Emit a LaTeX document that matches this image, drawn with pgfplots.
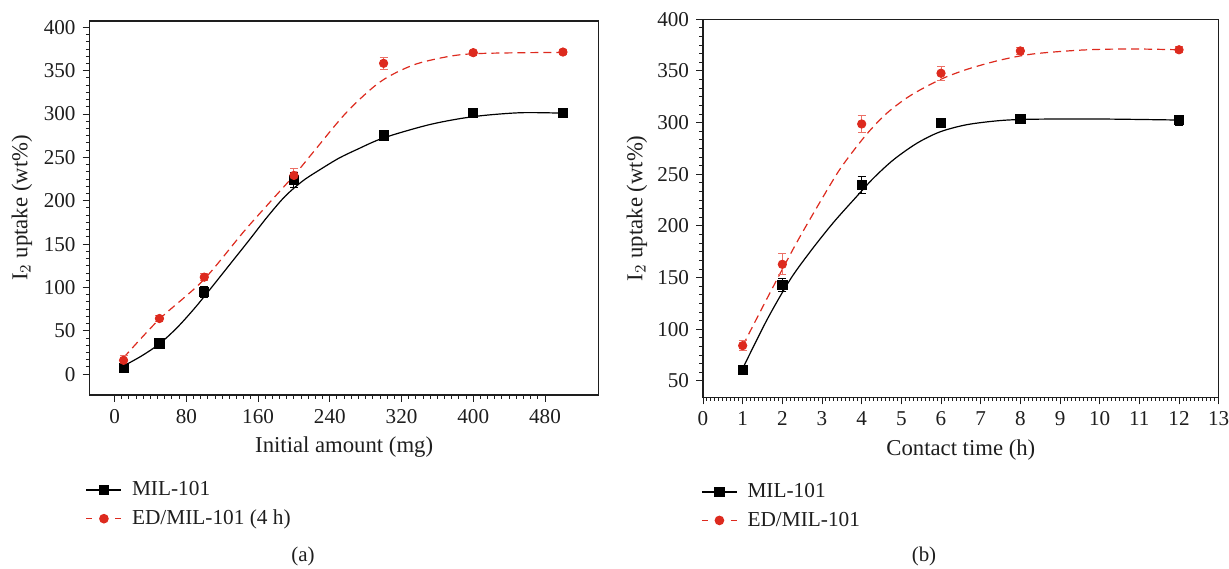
\documentclass[border=0pt]{standalone}
\usepackage{fontspec}
\setmainfont{Liberation Serif}
\usepackage{pgfplots}
\usepackage{pgfplotstable}
\pgfplotsset{compat=1.18}

\definecolor{myred}{RGB}{221,42,30}
\definecolor{errred}{RGB}{236,112,102}
\definecolor{ink}{RGB}{30,30,30}

% ---------- data (a) ----------
\pgfplotstableread{
x y e
10 7.7 3
50 35.4 3
100 95 6
200 224 9
300 275.4 3
400 301.5 3
500 301.5 3
}\amil
\pgfplotstableread{
x y e
10 16 6
50 64.2 4
100 111.9 4
200 229.2 8
300 358.5 7
400 370.8 3
500 371.5 3
}\aed
\pgfplotstableread{
x y
10 9.5
30 21
50 35
70 54
90 77
110 102.5
130 128.5
150 154.5
170 181
190 205
210 223
230 236.5
250 249
270 259
300 272.5
352 288
400 297
452 301.5
500 301
}\amilfit
\pgfplotstableread{
x y
10 19
49.5 63
99 108.5
147 168
199 228
221.5 256
258.7 302
296 337
333 356.5
370.4 366
399.4 369.5
452 370.7
500 371
}\aedfit
% ---------- data (b) ----------
\pgfplotstableread{
x y e
1 60.6 3
2 142.9 6
4 239.7 8
6 299.4 3
8 303.3 3
12 302.3 5
}\bmil
\pgfplotstableread{
x y e
1 84.2 5
2 162.9 10
4 298.7 8
6 347.8 7
8 369.4 3
12 370.5 3
}\bed
\pgfplotstableread{
x y
1 62
1.61 109
2.19 147.7
2.70 175
3.28 203
3.87 228.4
4.29 246
4.8 264
5.39 280
5.97 291
6.65 298
7.49 302
8.33 303.3
10 303.5
12 302.5
}\bmilfit
\pgfplotstableread{
x y
1 84
1.77 141.3
2.45 190
3.28 244.5
3.62 264
4.13 289
4.63 309
5.22 326
5.97 341.5
6.65 351.5
7.49 360.5
8.33 366.5
9.59 370.3
10.76 371.3
12 370.5
}\bedfit

\pgfplotsset{
  base/.style={
    scale only axis,
    axis line style={line width=0.6bp, ink},
    tick style={line width=0.5bp, ink},
    major tick length=3.5bp, minor tick length=1.8bp,
    tick align=outside,
    xtick pos=lower, ytick pos=left,
    /pgf/number format/assume math mode=true,
    xticklabel style={font=\fontsize{10.6}{12}\selectfont, text=ink},
    yticklabel style={font=\fontsize{10.6}{12}\selectfont, text=ink},
    legend style={font=\fontsize{10.7}{12}\selectfont, text=ink, draw=none, fill=none,
      anchor=north west, legend cell align=left, row sep=2.6bp, column sep=3.5bp, inner sep=0pt,
      nodes={inner sep=1.5bp}},
    legend image code/.code={\draw[mark repeat=2,mark phase=2,##1] plot coordinates {(0bp,0bp) (8.75bp,0bp) (17.5bp,0bp)};},
    every axis x label/.style={at={(axis description cs:0.5,-0.14)}, anchor=center,
      font=\fontsize{11.4}{13}\selectfont, text=ink},
  },
  milpts/.style={only marks, mark=square*, mark size=2.3bp, black, forget plot,
    error bars/.cd, y dir=both, y explicit,
    error bar style={line width=0.5bp, black},
    error mark options={rotate=90, mark size=2bp, line width=0.5bp, black}},
  edpts/.style={only marks, mark=*, mark size=2.1bp, myred, forget plot,
    error bars/.cd, y dir=both, y explicit,
    error bar style={line width=0.5bp, errred},
    error mark options={rotate=90, mark size=2bp, line width=0.5bp, errred}},
  milline/.style={black, line width=0.6bp, smooth, no marks, forget plot},
  edline/.style={myred, line width=0.6bp, dash pattern=on 4bp off 2.5bp, smooth, no marks, forget plot},
}

\begin{document}
\begin{tikzpicture}
\useasboundingbox (0,0) rectangle (614.5bp,284.5bp);
% ---------------- (a) ----------------
\begin{axis}[base,
  at={(44.75bp,87bp)}, anchor=south west,
  width=254.65bp, height=187bp,
  xmin=-28, xmax=540, ymin=-24, ymax=407.3,
  xtick={0,80,...,480}, minor x tick num=9,
  ytick={0,50,...,400}, minor y tick num=5,
  xlabel={Initial amount (mg)},
  ylabel={I$_2$ uptake (wt\%)},
  every axis y label/.style={at={(axis description cs:-0.1325,0.5)}, rotate=90, anchor=center,
    font=\fontsize{11.4}{13}\selectfont, text=ink},
  legend style={at={(axis description cs:-0.008,-0.222)}},
]
\addlegendimage{black, line width=0.6bp, mark=square*, mark size=2.3bp}
\addlegendentry{MIL-101}
\addlegendimage{myred, line width=0.6bp, dash pattern=on 3bp off 11.5bp, mark=*, mark size=2.1bp, mark options={solid}}
\addlegendentry{ED/MIL-101 (4 h)}
\addplot[milline] table[x=x,y=y] {\amilfit};
\addplot[edline] table[x=x,y=y] {\aedfit};
\addplot[milpts] table[x=x,y=y,y error=e] {\amil};
\addplot[edpts] table[x=x,y=y,y error=e] {\aed};
\end{axis}
% ---------------- (b) ----------------
\begin{axis}[base,
  at={(351.5bp,85.85bp)}, anchor=south west,
  width=257.85bp, height=189bp,
  xmin=0, xmax=13, ymin=34.2, ymax=400,
  xtick={0,1,...,13}, minor x tick num=9,
  ytick={50,100,...,400}, minor y tick num=5,
  xlabel={Contact time (h)},
  ylabel={I$_2$ uptake (wt\%)},
  every axis y label/.style={at={(axis description cs:-0.128,0.5)}, rotate=90, anchor=center,
    font=\fontsize{11.4}{13}\selectfont, text=ink},
  legend style={at={(axis description cs:-0.004,-0.219)}},
]
\addlegendimage{black, line width=0.6bp, mark=square*, mark size=2.3bp}
\addlegendentry{MIL-101}
\addlegendimage{myred, line width=0.6bp, dash pattern=on 3bp off 11.5bp, mark=*, mark size=2.1bp, mark options={solid}}
\addlegendentry{ED/MIL-101}
\addplot[milline] table[x=x,y=y] {\bmilfit};
\addplot[edline] table[x=x,y=y] {\bedfit};
\addplot[milpts] table[x=x,y=y,y error=e] {\bmil};
\addplot[edpts] table[x=x,y=y,y error=e] {\bed};
\end{axis}
\node[font=\fontsize{10.5}{12}\selectfont, text=ink] at (151.5bp,6.5bp) {(a)};
\node[font=\fontsize{10.5}{12}\selectfont, text=ink] at (462bp,6.5bp) {(b)};
\end{tikzpicture}
\end{document}
